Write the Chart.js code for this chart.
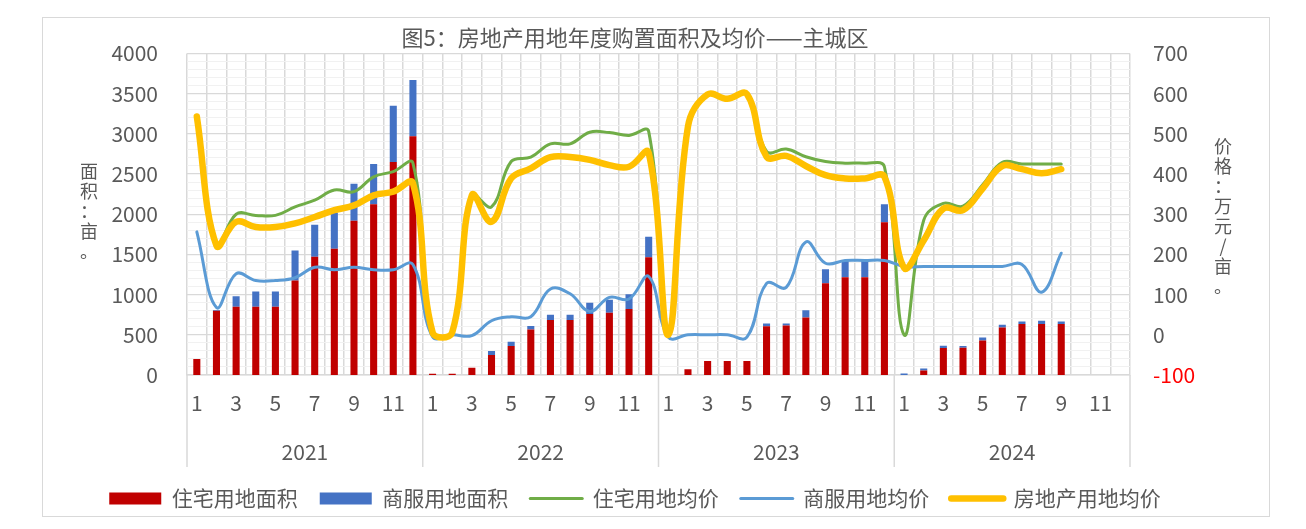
<!DOCTYPE html>
<html>
<head>
<meta charset="utf-8">
<script src="https://cdn.jsdelivr.net/npm/chart.js@4.4.0/dist/chart.umd.min.js"></script>
<style>
  html, body { margin: 0; padding: 0; background: #fff; }
  #wrap { position: relative; width: 1306px; height: 529px; }
  #frame { position: absolute; left: 42px; top: 17px; width: 1226px; height: 498px; border: 1.5px solid #d9d9d9; pointer-events: none; }
  .axis-title { position: absolute; width: 20px; font-family: "Noto Sans CJK SC", sans-serif; font-size: 18px; color: #595959; text-align: center; }
  .axis-title span { display: block; height: 20px; line-height: 20px; }
</style>
</head>
<body>
<div id="wrap">
  <canvas id="chart" width="1306" height="529"></canvas>
  <div id="frame"></div>
  <div class="axis-title" style="left:79px; top:160px;"><span>面</span><span>积</span><span>：</span><span>亩</span><span>。</span></div>
  <div class="axis-title" style="left:1213px; top:135px;"><span>价</span><span>格</span><span>：</span><span>万</span><span>元</span><span>/</span><span>亩</span><span>。</span></div>
</div>
<script>
// categories
const years = ['2021', '2022', '2023', '2024'];
const months = ['1', '2', '3', '4', '5', '6', '7', '8', '9', '10', '11', '12'];

// 住宅用地面积 (亩)
const residentialArea = [
  200, 800, 850, 850, 850, 1175, 1470, 1570, 1920, 2125, 2650, 2970,
  15, 15, 90, 250, 360, 565, 685, 685, 760, 775, 820, 1465,
  0, 70, 175, 175, 175, 605, 615, 715, 1140, 1215, 1215, 1900,
  0, 55, 335, 340, 430, 590, 635, 635, 635, null, null, null
];
// 商服用地面积 (亩)
const commercialArea = [
  0, 10, 130, 190, 190, 375, 400, 450, 460, 500, 700, 700,
  0, 0, 0, 50, 55, 45, 65, 65, 140, 160, 185, 255,
  0, 0, 0, 0, 0, 35, 25, 90, 175, 205, 205, 225,
  20, 25, 30, 20, 35, 35, 30, 40, 30, null, null, null
];
// 住宅用地均价 (万元/亩)
const residentialPrice = [
  543, 222, 300, 297, 297, 318, 335, 360, 356, 393, 406, 427,
  6, 6, 347, 318, 431, 442, 475, 475, 504, 503, 496, 506,
  0, 518, 598, 587, 599, 456, 462, 443, 431, 427, 427, 418,
  0, 285, 327, 320, 373, 429, 425, 425, 425, null, null, null
];
// 商服用地均价
const commercialPrice = [
  256, 68, 152, 135, 135, 142, 168, 162, 168, 162, 162, 175,
  -5, 0, -2, 35, 45, 45, 114, 102, 58, 93, 89, 145,
  -6, 0, 0, 0, -6, 128, 118, 231, 178, 185, 185, 185,
  170, 170, 170, 170, 170, 170, 175, 106, 203, null, null, null
];
// 房地产用地均价
const realEstatePrice = [
  543, 222, 281, 268, 268, 277, 293, 310, 322, 347, 356, 377,
  6, 6, 347, 281, 389, 414, 442, 442, 435, 422, 418, 453,
  0, 518, 598, 587, 599, 443, 445, 420, 397, 389, 389, 393,
  167, 235, 314, 310, 364, 420, 412, 402, 412, null, null, null
];

const FONT = '"Noto Sans CJK SC", "Noto Sans", sans-serif';
const textGray = '#595959';
const gridGray = '#d9d9d9';

const labels = years.flatMap(() => months);

// year group dividers below the month labels
const yearDividers = {
  id: 'yearDividers',
  afterDraw(chart) {
    const x = chart.scales.x;
    const ctx = chart.ctx;
    const half = (x.getPixelForValue(1) - x.getPixelForValue(0)) / 2;
    const top = chart.chartArea.bottom;
    ctx.save();
    ctx.strokeStyle = gridGray;
    ctx.lineWidth = 1.5;
    for (let k = 0; k <= years.length; k++) {
      const px = x.getPixelForValue(k * months.length) - half;
      ctx.beginPath();
      ctx.moveTo(px, top);
      ctx.lineTo(px, top + 92);
      ctx.stroke();
    }
    ctx.restore();
  }
};

const lineBase = {
  type: 'line',
  yAxisID: 'y1',
  pointRadius: 0,
  tension: 0.4,
  borderCapStyle: 'round',
  borderJoinStyle: 'round',
  fill: false
};

new Chart(document.getElementById('chart'), {
  type: 'bar',
  data: {
    labels: labels,
    datasets: [
      {
        label: '住宅用地面积',
        data: residentialArea,
        backgroundColor: '#C00000',
        barPercentage: 0.36,
        categoryPercentage: 1,
        order: 4
      },
      {
        label: '商服用地面积',
        data: commercialArea,
        backgroundColor: '#4472C4',
        barPercentage: 0.36,
        categoryPercentage: 1,
        order: 5
      },
      Object.assign({}, lineBase, {
        label: '住宅用地均价',
        data: residentialPrice,
        borderColor: '#70AD47',
        backgroundColor: '#70AD47',
        borderWidth: 3,
        order: 3
      }),
      Object.assign({}, lineBase, {
        label: '商服用地均价',
        data: commercialPrice,
        borderColor: '#5B9BD5',
        backgroundColor: '#5B9BD5',
        borderWidth: 3,
        order: 2
      }),
      Object.assign({}, lineBase, {
        label: '房地产用地均价',
        data: realEstatePrice,
        borderColor: '#FFC000',
        backgroundColor: '#FFC000',
        borderWidth: 6.5,
        order: 1
      })
    ]
  },
  options: {
    responsive: false,
    animation: false,
    layout: { padding: { left: 0, right: 36, top: 0, bottom: 10 } },
    plugins: {
      title: {
        display: true,
        text: '图5：房地产用地年度购置面积及均价——主城区',
        color: textGray,
        font: { family: FONT, size: 22, weight: 'normal' },
        padding: { top: 24, bottom: 3 }
      },
      legend: {
        position: 'bottom',
        labels: {
          color: textGray,
          font: { family: FONT, size: 21 },
          usePointStyle: true,
          pointStyleWidth: 52,
          boxHeight: 12,
          padding: 22,
          sort: (a, b) => a.datasetIndex - b.datasetIndex,
          generateLabels(chart) {
            const items = Chart.defaults.plugins.legend.labels.generateLabels(chart);
            items.forEach(it => {
              const ds = chart.data.datasets[it.datasetIndex];
              if (ds.type === 'line') {
                it.pointStyle = 'line';
                it.strokeStyle = ds.borderColor;
                it.lineWidth = ds.borderWidth;
                it.lineCap = 'round';
              } else {
                it.pointStyle = 'rect';
                it.fillStyle = ds.backgroundColor;
                it.lineWidth = 0;
              }
            });
            return items;
          }
        }
      },
      tooltip: { enabled: false }
    },
    scales: {
      x: {
        stacked: true,
        offset: true,
        weight: 0,
        grid: { offset: true, color: gridGray, lineWidth: 1.5, drawTicks: false },
        border: { color: gridGray, width: 1.5 },
        ticks: {
          autoSkip: false,
          maxRotation: 0,
          padding: 15,
          color: textGray,
          font: { family: FONT, size: 21 },
          callback(value, index) {
            return index % 2 === 0 ? this.getLabelForValue(value) : '';
          }
        },
        afterFit(s) { s.height = 45; }
      },
      x2: {
        type: 'category',
        labels: years,
        position: 'bottom',
        offset: true,
        weight: 1,
        grid: { display: false },
        border: { display: false },
        ticks: { padding: 11, color: textGray, font: { family: FONT, size: 21 }, maxRotation: 0 },
        afterFit(s) { s.height = 46; }
      },
      y: {
        stacked: true,
        position: 'left',
        min: 0,
        max: 4000,
        grid: { display: false, drawTicks: false },
        border: { display: false },
        ticks: {
          stepSize: 500,
          padding: 29,
          color: textGray,
          font: { family: FONT, size: 21 },
          callback: v => String(v)
        },
        afterFit(s) { s.width = 187; }
      },
      y1: {
        position: 'right',
        min: -100,
        max: 700,
        grid: { color: gridGray, lineWidth: 1.2, drawTicks: false },
        border: { display: false },
        ticks: {
          stepSize: 100,
          padding: 23,
          color: ctx => (ctx.tick && ctx.tick.value < 0 ? '#FF0000' : textGray),
          font: { family: FONT, size: 21 },
          callback: v => String(v)
        },
        afterFit(s) { s.width = 140; }
      },
      yMinor: {
        position: 'right',
        min: -100,
        max: 700,
        grid: {
          color: ctx => (ctx.tick && ctx.tick.value % 100 === 0 ? 'rgba(0,0,0,0)' : '#f1f1f1'),
          lineWidth: 1,
          drawTicks: false
        },
        border: { display: false },
        ticks: { display: false, stepSize: 20, maxTicksLimit: 100 },
        afterFit(s) { s.width = 0; }
      }
    }
  },
  plugins: [yearDividers]
});
</script>
</body>
</html>
